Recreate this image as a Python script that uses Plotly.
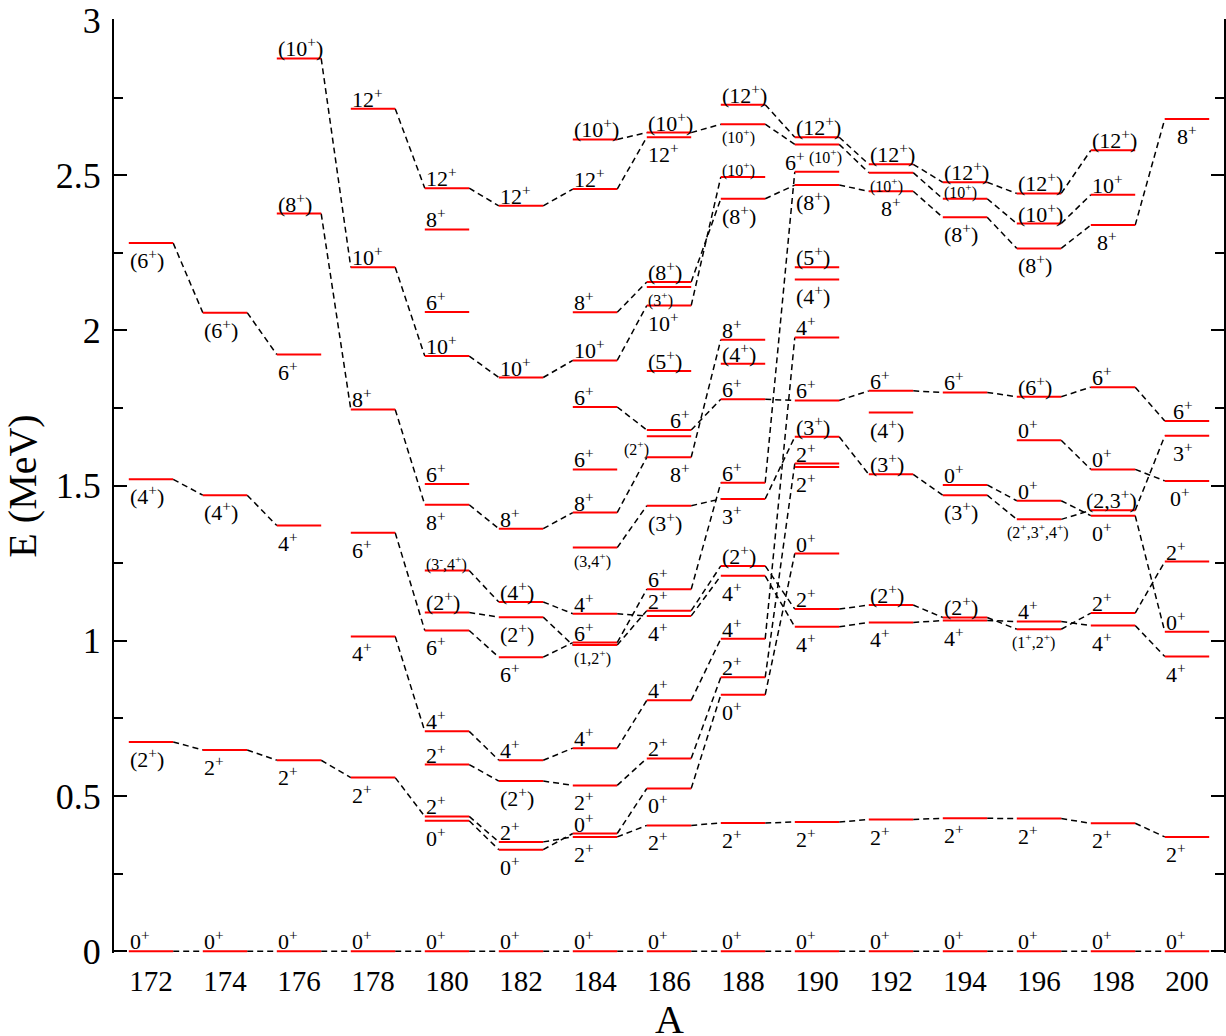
import plotly.graph_objects as go

# ---------------- data: level energies (MeV) and spin labels per nucleus ----------------
A_LIST = [172, 174, 176, 178, 180, 182, 184, 186, 188, 190, 192, 194, 196, 198, 200]

E172 = [0.0, 0.674, 1.520, 2.281]
J172 = ["0+", "(2+)", "(4+)", "(6+)"]
E174 = [0.0, 0.648, 1.469, 2.057]
J174 = ["0+", "2+", "(4+)", "(6+)"]
E176 = [0.0, 0.615, 1.371, 1.922, 2.376, 2.876]
J176 = ["0+", "2+", "4+", "6+", "(8+)", "(10+)"]
E178 = [0.0, 0.559, 1.014, 1.348, 1.745, 2.203, 2.714]
J178 = ["0+", "2+", "4+", "6+", "8+", "10+", "12+"]
E180 = [0.0, 0.420, 0.434, 0.601, 0.708, 1.033, 1.091, 1.226, 1.438, 1.505, 1.917, 2.059, 2.325, 2.458]
J180 = ["0+", "0+", "2+", "2+", "4+", "6+", "(2+)", "(3-,4+)", "8+", "6+", "10+", "6+", "8+", "12+"]
E182 = [0.0, 0.327, 0.352, 0.548, 0.615, 0.947, 1.076, 1.125, 1.361, 1.848, 2.401]
J182 = ["0+", "0+", "2+", "(2+)", "4+", "6+", "(2+)", "(4+)", "8+", "10+", "12+"]
E184 = [0.0, 0.368, 0.379, 0.534, 0.654, 0.986, 0.994, 1.087, 1.300, 1.413, 1.552, 1.753, 1.903, 2.058, 2.455, 2.615]
J184 = ["0+", "2+", "0+", "2+", "4+", "(1,2+)", "6+", "4+", "(3,4+)", "8+", "6+", "6+", "10+", "8+", "12+", "(10+)"]
E186 = [0.0, 0.405, 0.524, 0.621, 0.808, 1.080, 1.097, 1.166, 1.435, 1.591, 1.659, 1.679, 1.869, 2.080, 2.140, 2.156, 2.622, 2.637]
J186 = ["0+", "2+", "0+", "2+", "4+", "4+", "2+", "6+", "(3+)", "8+", "(2+)", "6+", "(5+)", "10+", "(3+)", "(8+)", "12+", "(10+)"]
E188 = [0.0, 0.413, 0.826, 0.882, 1.006, 1.209, 1.241, 1.457, 1.509, 1.778, 1.892, 1.970, 2.424, 2.494, 2.664, 2.727]
J188 = ["0+", "2+", "0+", "2+", "4+", "4+", "(2+)", "3+", "6+", "6+", "(4+)", "8+", "(8+)", "(10+)", "(10+)", "(12+)"]
E190 = [0.0, 0.416, 1.045, 1.102, 1.281, 1.560, 1.571, 1.657, 1.774, 1.977, 2.164, 2.203, 2.468, 2.511, 2.599, 2.622]
J190 = ["0+", "2+", "4+", "2+", "0+", "2+", "2+", "(3+)", "6+", "4+", "(4+)", "(5+)", "(8+)", "6+", "(10+)", "(12+)"]
E192 = [0.0, 0.424, 1.059, 1.115, 1.536, 1.735, 1.805, 2.448, 2.508, 2.535]
J192 = ["0+", "2+", "4+", "(2+)", "(3+)", "(4+)", "6+", "8+", "(10+)", "(12+)"]
E194 = [0.0, 0.428, 1.065, 1.075, 1.469, 1.502, 1.800, 2.364, 2.424, 2.477]
J194 = ["0+", "2+", "4+", "(2+)", "(3+)", "0+", "6+", "(8+)", "(10+)", "(12+)"]
E196 = [0.0, 0.427, 1.037, 1.062, 1.391, 1.451, 1.646, 1.786, 2.264, 2.344, 2.441]
J196 = ["0+", "2+", "(1+,2+)", "4+", "(2+,3+,4+)", "0+", "0+", "(6+)", "(8+)", "(10+)", "(12+)"]
E198 = [0.0, 0.412, 1.049, 1.089, 1.403, 1.420, 1.552, 1.817, 2.339, 2.437, 2.580]
J198 = ["0+", "2+", "4+", "2+", "0+", "(2,3+)", "0+", "6+", "8+", "10+", "(12+)"]
E200 = [0.0, 0.368, 0.949, 1.029, 1.255, 1.515, 1.660, 1.708, 2.681]
J200 = ["0+", "2+", "4+", "0+", "2+", "0+", "3+", "6+", "8+"]

# bands (dashed connections): lists of (A, E)
BAND_GS = [(a, 0.0) for a in A_LIST]
BAND_2 = [(172, 0.674), (174, 0.648), (176, 0.615), (178, 0.559), (180, 0.434), (182, 0.352), (184, 0.368),
          (186, 0.405), (188, 0.413), (190, 0.416), (192, 0.424), (194, 0.428), (196, 0.427), (198, 0.412), (200, 0.368)]
BAND_0B = [(180, 0.420), (182, 0.327), (184, 0.379), (186, 0.524), (188, 0.826), (190, 1.281)]
BAND_2B = [(180, 0.601), (182, 0.548), (184, 0.534), (186, 0.621), (188, 0.882), (190, 1.571)]
BAND_4A = [(172, 1.520), (174, 1.469), (176, 1.371)]
BAND_4B = [(178, 1.014), (180, 0.708), (182, 0.615), (184, 0.654), (186, 0.808), (188, 1.006), (190, 1.977)]
BAND_6A = [(172, 2.281), (174, 2.057), (176, 1.922)]
BAND_6B = [(178, 1.348), (180, 1.033), (182, 0.947), (184, 0.994), (186, 1.166), (188, 1.509), (190, 2.511)]
BAND_8 = [(176, 2.376), (178, 1.745), (180, 1.438), (182, 1.361), (184, 1.413), (186, 1.591), (188, 1.970)]
BAND_10 = [(176, 2.876), (178, 2.203), (180, 1.917), (182, 1.848), (184, 1.903), (186, 2.080), (188, 2.494)]
BAND_12 = [(178, 2.714), (180, 2.458), (182, 2.401), (184, 2.455), (186, 2.622)]
BAND_G2 = [(180, 1.091), (182, 1.076), (184, 0.986), (186, 1.097), (188, 1.241), (190, 1.102), (192, 1.115),
           (194, 1.075), (196, 1.037), (198, 1.089), (200, 1.255)]
BAND_G4 = [(180, 1.226), (182, 1.125), (184, 1.087), (186, 1.080), (188, 1.209), (190, 1.045), (192, 1.059),
           (194, 1.065), (196, 1.062), (198, 1.049), (200, 0.949)]
BAND_G3 = [(184, 1.300), (186, 1.435), (188, 1.457), (190, 1.657), (192, 1.536), (194, 1.469), (196, 1.391),
           (198, 1.420), (200, 1.660)]
BAND_O6 = [(184, 1.753), (186, 1.679), (188, 1.778), (190, 1.774), (192, 1.805), (194, 1.800), (196, 1.786),
           (198, 1.817), (200, 1.708)]
BAND_O8 = [(184, 2.058), (186, 2.156), (188, 2.424), (190, 2.468), (192, 2.448), (194, 2.364), (196, 2.264),
           (198, 2.339), (200, 2.681)]
BAND_O10 = [(184, 2.615), (186, 2.637), (188, 2.664), (190, 2.599), (192, 2.508), (194, 2.424), (196, 2.344), (198, 2.437)]
BAND_O12 = [(188, 2.727), (190, 2.622), (192, 2.535), (194, 2.477), (196, 2.441), (198, 2.580)]
BAND_0X = [(194, 1.502), (196, 1.451), (198, 1.403), (200, 1.029)]
BAND_0Y = [(196, 1.646), (198, 1.552), (200, 1.515)]

# ---------------- label placement (style): a=above, b=below, s=small ----------------
P172 = ["a", "b", "b", "b"]
P174 = ["a", "b", "b", "b"]
P176 = ["a", "b", "b", "b", "a", "a"]
P178 = ["a", "b", "b", "b", "a", "a", "a"]
P180 = ["a", "b", "a", "a", "a", "b", "a", "as", "b", "a", "a", "a", "a", "a"]
P182 = ["a", "b", "a", "b", "a", "b", "b", "a", "a", "a", "a"]
P184 = ["a", "b", "a", "b", "a", "bs", "a", "a", "bs", "a", "a", "a", "a", "a", "a", "a"]
P186 = ["a", "b", "b", "a", "a", "b", "a", "a", "b", "b", "bs", "a", "a", "b", "bs", "a", "b", "a"]
P188 = ["a", "b", "b", "a", "a", "b", "a", "b", "a", "a", "a", "a", "b", "as", "bs", "a"]
P190 = ["a", "b", "b", "a", "a", "b", "a", "a", "a", "a", "b", "a", "b", "a", "bs", "a"]
P192 = ["a", "b", "b", "a", "a", "b", "a", "b", "bs", "a"]
P194 = ["a", "b", "b", "a", "b", "a", "a", "b", "as", "a"]
P196 = ["a", "b", "bs", "a", "bs", "a", "a", "a", "b", "a", "a"]
P198 = ["a", "b", "b", "a", "b", "a", "a", "a", "b", "a", "a"]
P200 = ["a", "b", "b", "a", "a", "b", "b", "a", "b"]
LABEL_DX = {(186, 1.591): 0.6, (186, 1.679): 0.6, (186, 1.659): -0.64, (190, 2.511): -0.3,
            (190, 2.599): 0.35, (192, 2.448): 0.3, (196, 1.391): -0.3, (196, 1.037): -0.15,
            (198, 1.420): -0.15, (198, 2.339): 0.15, (200, 2.681): 0.3, (200, 1.708): 0.2,
            (200, 1.660): 0.2, (200, 1.515): 0.1}

NUCLEI = {172: (E172, J172, P172), 174: (E174, J174, P174), 176: (E176, J176, P176),
          178: (E178, J178, P178), 180: (E180, J180, P180), 182: (E182, J182, P182),
          184: (E184, J184, P184), 186: (E186, J186, P186), 188: (E188, J188, P188),
          190: (E190, J190, P190), 192: (E192, J192, P192), 194: (E194, J194, P194),
          196: (E196, J196, P196), 198: (E198, J198, P198), 200: (E200, J200, P200)}
BANDS = [BAND_GS, BAND_2, BAND_0B, BAND_2B, BAND_4A, BAND_4B, BAND_6A, BAND_6B, BAND_8, BAND_10, BAND_12,
         BAND_G2, BAND_G4, BAND_G3, BAND_O6, BAND_O8, BAND_O10, BAND_O12, BAND_0X, BAND_0Y]

HW = 0.6
FONT = "Liberation Serif"

def fmt(j):
    return j.replace("+", "<sup>+</sup>").replace("-", "<sup>-</sup>")

fig = go.Figure()

# dashed band connections
bx, by = [], []
for band in BANDS:
    for (a1, e1), (a2, e2) in zip(band[:-1], band[1:]):
        bx += [a1 + HW, a2 - HW, None]
        by += [e1, e2, None]
fig.add_trace(go.Scatter(x=bx, y=by, mode="lines", hoverinfo="skip",
                         line=dict(color="black", width=1.5, dash="6px,4px")))

# red levels
lx, ly = [], []
for a, (es, js, ps) in NUCLEI.items():
    for e in es:
        lx += [a - HW, a + HW, None]
        ly += [e, e, None]
fig.add_trace(go.Scatter(x=lx, y=ly, mode="lines", hoverinfo="skip",
                         line=dict(color="#ff0000", width=2)))

annotations = []
for a, (es, js, ps) in NUCLEI.items():
    for e, j, p in zip(es, js, ps):
        small = "s" in p
        above = p.startswith("a")
        dx = LABEL_DX.get((a, e), 0.0)
        annotations.append(dict(
            x=a - HW + dx, y=e, xref="x", yref="y", text=fmt(j), showarrow=False,
            xanchor="left", yanchor="bottom" if above else "top",
            yshift=-4 if above else -1, borderpad=0,
            font=dict(family=FONT, size=16 if small else 22, color="black")))

# x-axis title as paper annotation (placed lower than plotly's margin-constrained title)
annotations.append(dict(x=0.5, y=-0.046, xref="paper", yref="paper", text="A", showarrow=False,
                        xanchor="center", yanchor="top", borderpad=0,
                        font=dict(family=FONT, size=40, color="black")))

fig.update_layout(
    width=1226, height=1036,
    margin=dict(l=114, r=2, t=19, b=83),
    paper_bgcolor="white", plot_bgcolor="white",
    showlegend=False,
    annotations=annotations,
    xaxis=dict(range=[171, 201], tickvals=A_LIST, ticktext=[str(a) for a in A_LIST],
               showgrid=False, zeroline=False, showline=False, ticks="",
               ticklabelstandoff=8, automargin=False,
               tickfont=dict(family=FONT, size=29, color="black")),
    yaxis=dict(range=[-0.006, 3.003], tick0=0, dtick=0.5, showgrid=False, zeroline=False,
               showline=True, linecolor="black", linewidth=2, mirror="ticks",
               ticks="inside", ticklen=13, tickwidth=2, tickcolor="black",
               ticklabelstandoff=4, automargin=False,
               minor=dict(ticks="inside", ticklen=9, tickwidth=2, dtick=0.25, tick0=0, tickcolor="black"),
               tickfont=dict(family=FONT, size=36, color="black"),
               title=dict(text="E (MeV)", font=dict(family=FONT, size=40, color="black"), standoff=10)),
)

fig.write_html("out.html")
